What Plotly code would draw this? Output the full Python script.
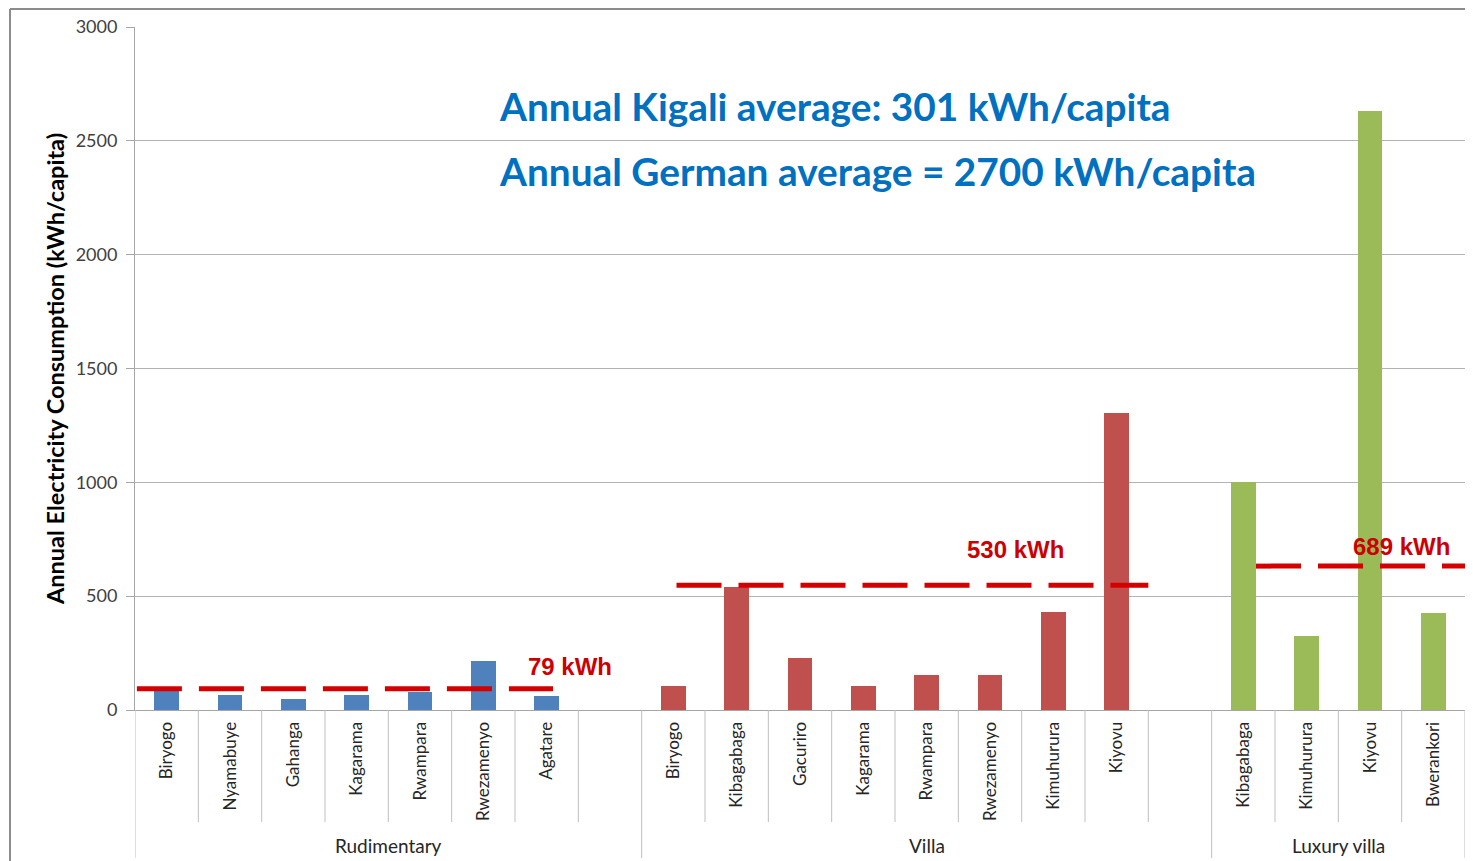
import plotly.graph_objects as go

# ---- data ----
groups = ["Rudimentary", "Villa", "Luxury villa"]
rud_names = ["Biryogo", "Nyamabuye", "Gahanga", "Kagarama", "Rwampara", "Rwezamenyo", "Agatare"]
rud_values = [98, 66, 50, 66, 78, 216, 60]
villa_names = ["Biryogo", "Kibagabaga", "Gacuriro", "Kagarama", "Rwampara", "Rwezamenyo", "Kimuhurura", "Kiyovu"]
villa_values = [104, 540, 230, 104, 153, 153, 432, 1303]
lux_names = ["Kibagabaga", "Kimuhurura", "Kiyovu", "Bwerankori"]
lux_values = [1000, 326, 2632, 427]
avg_labels = ["79 kWh", "530 kWh", "689 kWh"]
avg_line_levels = [93, 548, 632]   # where the dashed lines sit in the picture
avg_line_spans = [(0.03, 6.6), (8.55, 16.0), (17.7, 21.0)]
avg_label_pos = [(6.87, 189), (13.91, 707), (19.99, 716)]
notes = ["Annual Kigali average: 301 kWh/capita", "Annual German average = 2700 kWh/capita"]

colors = ["#4F81BD", "#C0504D", "#9BBB59"]
series = [(rud_names, rud_values), (villa_names, villa_values), (lux_names, lux_values)]
slots = [len(rud_names) + 1, len(villa_names) + 1, len(lux_names)]  # empty slot after first two groups

FONT = "Lato, Calibri, sans-serif"
fig = go.Figure()
tickvals, ticktext = [], []
start = 0
group_bounds = [0]
for (names, vals), col, n in zip(series, colors, slots):
    xs = [start + i + 0.5 for i in range(len(names))]
    fig.add_trace(go.Bar(x=xs, y=vals, marker=dict(color=col, line=dict(width=0)),
                         width=0.39, showlegend=False))
    tickvals += xs
    ticktext += names
    start += n
    group_bounds.append(start)

# dashed average lines
for lvl, (a, b) in zip(avg_line_levels, avg_line_spans):
    fig.add_trace(go.Scatter(x=[a, b], y=[lvl, lvl], mode="lines", showlegend=False,
                             line=dict(color="#D40000", width=5, dash="45px,17px"), hoverinfo="skip"))

shapes = []
plot_h = 683
plot_w = 1330
# per-category dividers
for k in range(1, group_bounds[-1]):
    if k in group_bounds:
        continue
    shapes.append(dict(type="line", xref="x", yref="paper", x0=k, x1=k, y0=0, y1=-112 / plot_h,
                       line=dict(color="#BFBFBF", width=1)))
for k in group_bounds:
    shapes.append(dict(type="line", xref="x", yref="paper", x0=k, x1=k, y0=0, y1=-148 / plot_h,
                       line=dict(color="#BFBFBF", width=1)))
# outer chart border (left + top)
bx = -125 / plot_w
by = 1 + 18 / plot_h
shapes.append(dict(type="line", xref="paper", yref="paper", x0=bx, x1=bx,
                   y0=by, y1=-160 / plot_h, line=dict(color="#8C8C8C", width=2)))
shapes.append(dict(type="line", xref="paper", yref="paper", x0=bx, x1=1.01,
                   y0=by, y1=by, line=dict(color="#8C8C8C", width=2)))

annotations = []
for g, a, b in zip(groups, group_bounds[:-1], group_bounds[1:]):
    annotations.append(dict(x=(a + b) / 2, y=-135 / plot_h, xref="x", yref="paper", text=g,
                            showarrow=False, yanchor="middle",
                            font=dict(family=FONT, size=19, color="#262626")))

for t, (x, yv) in zip(avg_labels, avg_label_pos):
    annotations.append(dict(x=x, y=yv, xref="x", yref="y", text="<b>" + t + "</b>", showarrow=False,
                            font=dict(family="Arial, Liberation Sans, sans-serif", size=24, color="#CC0000")))

for note, ypix in zip(notes, [106, 171]):
    annotations.append(dict(x=(497 - 135) / plot_w, y=(710 - ypix) / plot_h, xref="paper", yref="paper",
                            text="<b>" + note + "</b>", showarrow=False, xanchor="left", yanchor="middle",
                            font=dict(family=FONT, size=38.8, color="#0070C0")))

fig.update_layout(
    width=1465, height=853,
    margin=dict(l=127, r=8, t=19, b=151),
    paper_bgcolor="white", plot_bgcolor="white",
    bargap=0,
    shapes=shapes, annotations=annotations,
    xaxis=dict(range=[0, group_bounds[-1]], tickmode="array", tickvals=tickvals, ticktext=ticktext,
               tickangle=-90, ticks="outside", ticklen=4, tickcolor="rgba(0,0,0,0)",
               showgrid=False, showline=True, linecolor="#A6A6A6", linewidth=1, zeroline=False,
               tickfont=dict(family=FONT, size=17, color="#262626")),
    yaxis=dict(range=[0, 3000], dtick=500, showgrid=True, gridcolor="#B3B3B3", gridwidth=1,
               showline=True, linecolor="#A6A6A6", ticks="outside", ticklen=8, tickcolor="#A6A6A6",
               ticklabelstandoff=5, zeroline=False,
               tickfont=dict(family=FONT, size=18, color="#404040"),
               title=dict(text="<b>Annual Electricity Consumption (kWh/capita)</b>", standoff=4,
                          font=dict(family=FONT, size=23.5, color="black"))),
)

fig.write_html("out.html")
